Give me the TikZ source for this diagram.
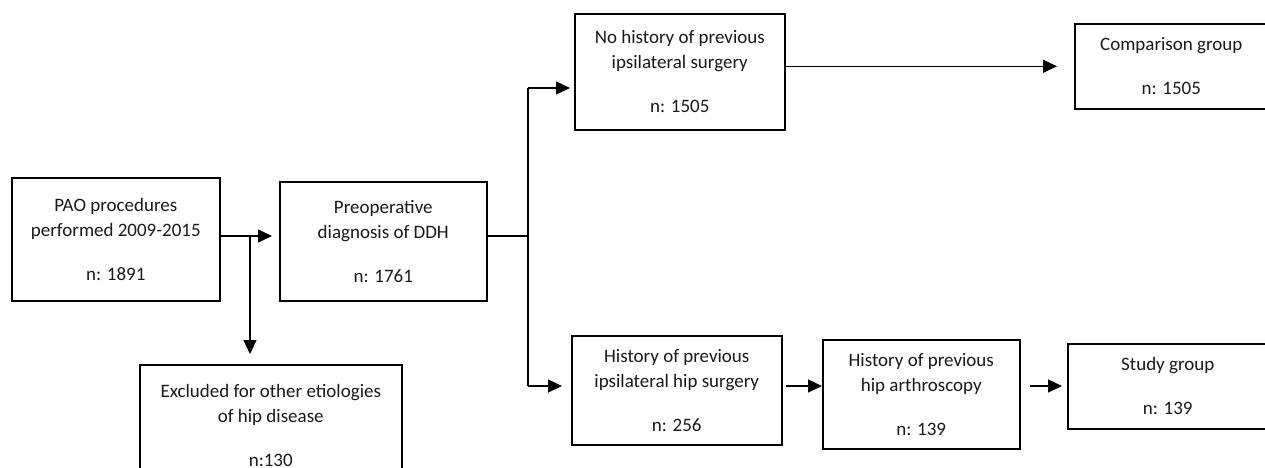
\documentclass[tikz,border=0pt]{standalone}
\usepackage{fontspec}
\setmainfont{Carlito}
\usetikzlibrary{arrows.meta}
\tikzset{
  box/.style={draw, line width=0.9pt, align=center, inner sep=2pt, anchor=north west,
    font=\fontsize{10.8}{14.2}\selectfont, text=black!90},
  arr/.style={line width=0.7pt, -{Triangle[length=0.28cm,width=0.26cm]}}
}
\begin{document}
\begin{tikzpicture}[x=0.02cm, y=-0.02cm]
\useasboundingbox (0,0) rectangle (1265,467);
%draw boxes
\node[box, minimum width=4.16cm, minimum height=2.46cm] (pao) at (11,177) {PAO procedures\\performed 2009-2015\\[0.38cm]n: 1891};
\node[box, minimum width=4.14cm, minimum height=2.38cm] (ddh) at (279,181) {Preoperative\\diagnosis of DDH\\[0.38cm]n: 1761};
\node[box, minimum width=5.24cm, minimum height=2.44cm] (excl) at (139,364) {Excluded for other etiologies\\of hip disease\\[0.38cm]n:130};
\node[box, minimum width=4.2cm, minimum height=2.32cm] (nohist) at (574,13) {No history of previous\\ipsilateral surgery\\[0.38cm]n: 1505};
\node[box, minimum width=3.86cm, minimum height=1.7cm] (comp) at (1074,23) {Comparison group\\[0.38cm]n: 1505};
\node[box, minimum width=4.2cm, minimum height=2.18cm] (hist) at (571,335) {History of previous\\ipsilateral hip surgery\\[0.38cm]n: 256};
\node[box, minimum width=3.94cm, minimum height=2.18cm] (arth) at (822,339) {History of previous\\hip arthroscopy\\[0.38cm]n: 139};
\node[box, minimum width=4cm, minimum height=1.7cm] (study) at (1067,343) {Study group\\[0.38cm]n: 139};
%branch points
\coordinate (drop) at (250,236);
\coordinate (split) at (528,236);
\coordinate (up) at (528,88);
\coordinate (down) at (528,386);
%draw connectors
\draw[arr, shorten >=0.14cm] (pao.east |- drop) -- (ddh.west |- drop);
\draw[arr, shorten >=0.2cm] (drop) -- (drop |- excl.north);
\draw[line width=0.7pt] (ddh.east |- split) -- (split);
\draw[line width=0.7pt] (up) -- (down);
\draw[arr, shorten >=0.08cm] (up) -- (up -| nohist.west);
\draw[arr, shorten >=0.18cm] (down) -- (down -| hist.west);
\draw[arr, shorten >=0.34cm] (comp.west -| nohist.east) -- (comp.west);
\draw[arr, shorten <=0.06cm] (down -| hist.east) -- (down -| arth.west);
\draw[arr, shorten <=0.18cm, shorten >=0.1cm] (down -| arth.east) -- (down -| study.west);
\end{tikzpicture}
\end{document}
